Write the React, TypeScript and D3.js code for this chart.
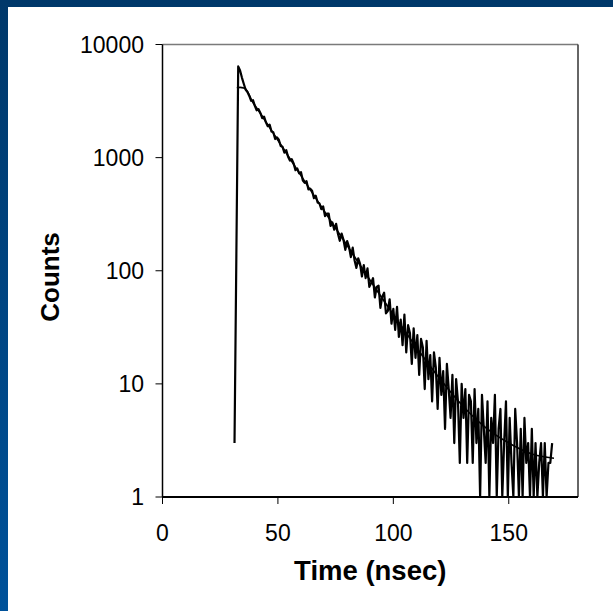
import React from "react";
import * as d3 from "d3";

// ---- Data ----
const T_START = 31.2; // ns, first channel
const CHANNEL_NS = 0.8; // ns per channel

const COUNTS: number[] = [
  3, 140, 6400, 5900, 5100, 4500, 4000, 3800,
  3509, 3182, 3219, 2867, 2620, 2684, 2485, 2231, 2302, 2050,
  1897, 1956, 1705, 1676, 1460, 1510, 1438, 1267, 1245, 1106,
  1164, 1018, 941, 970, 889, 774, 801, 726, 744, 627,
  599, 619, 524, 531, 510, 438, 460, 401, 393, 350,
  370, 304, 320, 320, 249, 267, 231, 260, 212, 184,
  213, 188, 153, 183, 163, 132, 160, 124, 106, 129,
  115, 89, 112, 86, 105, 72, 78, 86, 58, 72,
  74, 47, 59, 64, 42, 44, 56, 34, 46, 30,
  48, 26, 37, 22, 41, 19, 33, 28, 15, 31,
  17, 27, 12, 25, 21, 9, 24, 11, 18, 7,
  19, 14, 6, 17, 8, 13, 4, 15, 9, 5,
  12, 3, 11, 7, 2, 10, 5, 9, 2, 8,
  7, 2, 9, 3, 6, 1, 8, 4, 2, 7,
  0, 5, 3, 8, 1, 4, 6, 0, 3, 7,
  1, 5, 2, 0, 6, 3, 1, 4, 0, 5,
  2, 3, 0, 4, 1, 3, 0, 2, 3, 1,
  3, 0, 2, 2, 3,
];

const FIT_T: number[] = [32.2, 33.6, 35.2, 36.8, 38.4, 42, 50, 60, 70, 80, 90, 100, 110, 120, 130, 140, 150, 160, 169.6];
const FIT_V: number[] = [4150, 4180, 4120, 3850, 3280, 2533, 1425, 694, 338, 167, 82, 41, 21, 11.2, 6.4, 4.1, 3.0, 2.4, 2.2];

const X_TICKS: number[] = [0, 50, 100, 150];
const Y_TICKS: number[] = [1, 10, 100, 1000, 10000];

const X_LABEL = "Time (nsec)";
const Y_LABEL = "Counts";

// ---- Layout ----
const W = 613;
const H = 611;
const PL = 162.5;
const PR = 578;
const PT = 44.5;
const PB = 497;
const FONT = "'Liberation Sans', Arial, Helvetica, sans-serif";

export default function App() {
  const x = d3.scaleLinear().domain([0, 180]).range([PL, PR]);
  const y = d3.scaleLog().domain([1, 10000]).range([PB, PT]).clamp(true);

  const dataPts: [number, number][] = COUNTS.map((c, i) => [T_START + i * CHANNEL_NS, Math.max(c, 1)]);
  const fitPts: [number, number][] = FIT_T.map((t, i) => [t, FIT_V[i]]);

  const lineData = d3
    .line<[number, number]>()
    .x((d) => x(d[0]))
    .y((d) => y(d[1]));
  const lineFit = d3
    .line<[number, number]>()
    .x((d) => x(d[0]))
    .y((d) => y(d[1]))
    .curve(d3.curveMonotoneX);

  return (
    <svg
      width={W}
      height={H}
      style={{ position: "absolute", left: 0, top: 0, display: "block" }}
      fontFamily={FONT}
    >
      <defs>
        <linearGradient id="bg" x1="0" y1="0" x2="0" y2="1">
          <stop offset="0" stopColor="#00386a" />
          <stop offset="1" stopColor="#00529a" />
        </linearGradient>
      </defs>
      <rect x={0} y={0} width={W} height={H} fill="url(#bg)" />
      <rect x={8} y={7} width={W - 8} height={H - 7} fill="#ffffff" />

      {/* plot border (top/right) */}
      <line x1={PL} x2={PR} y1={PT} y2={PT} stroke="#7a7a7a" strokeWidth={1.5} />
      <line x1={PR} x2={PR} y1={PT} y2={PB} stroke="#333333" strokeWidth={1.5} />

      {/* series */}
      <path d={lineFit(fitPts) || ""} fill="none" stroke="#000" strokeWidth={1.6} strokeLinejoin="round" />
      <path d={lineData(dataPts) || ""} fill="none" stroke="#000" strokeWidth={2.2} strokeLinejoin="round" />

      {/* y axis */}
      <line x1={PL} x2={PL} y1={PT} y2={PB} stroke="#000" strokeWidth={1.5} />
      {Y_TICKS.map((v) => (
        <g key={"y" + v}>
          <line x1={PL - 7} x2={PL} y1={y(v)} y2={y(v)} stroke="#000" strokeWidth={1} />
          <text x={144} y={y(v)} dy="0.36em" textAnchor="end" fontSize={23} fill="#000">
            {v}
          </text>
        </g>
      ))}

      {/* x axis */}
      <line x1={PL} x2={PR} y1={PB} y2={PB} stroke="#000" strokeWidth={2} />
      {X_TICKS.map((v) => (
        <g key={"x" + v}>
          <line x1={x(v)} x2={x(v)} y1={PB} y2={PB + 7} stroke="#000" strokeWidth={1} />
          <text x={x(v)} y={540.5} textAnchor="middle" fontSize={23} fill="#000">
            {v}
          </text>
        </g>
      ))}

      <text x={(PL + PR) / 2} y={580} textAnchor="middle" fontSize={27.5} fontWeight="bold" fill="#000">
        {X_LABEL}
      </text>
      <text
        transform={`translate(59, 277) rotate(-90)`}
        textAnchor="middle"
        fontSize={26}
        fontWeight="bold"
        fill="#000"
      >
        {Y_LABEL}
      </text>
    </svg>
  );
}
